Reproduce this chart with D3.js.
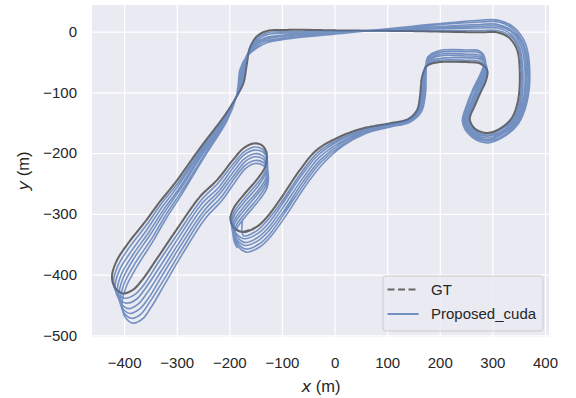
<!DOCTYPE html>
<html>
<head>
<meta charset="utf-8">
<script src="https://cdn.jsdelivr.net/npm/d3@7/dist/d3.min.js"></script>
<style>
  body { margin: 0; background: #fff; }
  text { font-family: "Liberation Sans", Arial, sans-serif; fill: #262626; }
</style>
</head>
<body>
<script>
const gtTrack = [
  [-174,-330],[-149,-322],[-130,-307],[-104,-277],[-66,-228],[-34,-195],[10,-173],[55,-159],[105,-151],[140,-144],
  [157,-129],[163,-101],[166,-76],[176,-56],[200,-50],[250,-50],[276,-52],[290,-63],[288,-80],[278,-99],
  [267,-121],[257,-144],[267,-160],[290,-167],[314,-160],[337,-142],[349,-112],[352,-66],[347,-30],[332,-10],
  [309,-1],[276,-1],[149,1],[23,2],[-91,3],[-129,1],[-148,-8],[-161,-27],[-167,-55],[-173,-84],
  [-187,-108],[-208,-137],[-256,-192],[-303,-249],[-332,-280],[-360,-313],[-392,-348],[-415,-379],[-423,-404],[-417,-422],
  [-402,-431],[-383,-425],[-364,-407],[-337,-373],[-301,-327],[-256,-272],[-223,-244],[-193,-211],[-173,-192],[-154,-184],
  [-138,-187],[-129,-200],[-132,-223],[-148,-244],[-173,-269],[-192,-291],[-198,-308],[-191,-323]
];
const gtLaps = 6;

// Proposed_cuda estimate, lap by lap
const blueStart = [-175,-309];
const lap1 = [
  [-173,-336],[-148,-328],[-129,-312],[-102,-282],[-64,-233],[-32,-199],[11,-176],[56,-161],[105,-152],[141,-145],
  [158,-130],[165,-101],[167,-75],[176,-54],[200,-47],[250,-47],[276,-49],[289,-60],[286,-78],[276,-98],
  [264,-121],[255,-145],[266,-162],[290,-170],[315,-162],[339,-144],[352,-113],[355,-66],[350,-28],[334,-7],
  [310,2],[276,2],[149,2],[23,1],[-91,0],[-129,-2],[-148,-11],[-162,-29],[-169,-56],[-175,-84],
  [-187,-108],[-207,-139],[-255,-195],[-301,-253],[-330,-284],[-357,-318],[-389,-354],[-412,-386],[-420,-412],[-414,-430],
  [-399,-439],[-380,-433],[-361,-415],[-335,-380],[-299,-334],[-254,-278],[-222,-250],[-192,-217],[-172,-198],[-153,-190],
  [-138,-193],[-129,-206],[-131,-229],[-147,-250],[-172,-275],[-191,-297],[-197,-314],[-190,-329]
];
const lap2 = [
  [-172,-341],[-147,-333],[-127,-317],[-101,-286],[-63,-237],[-31,-203],[12,-178],[56,-162],[105,-153],[141,-146],
  [160,-130],[166,-101],[169,-74],[176,-51],[200,-44],[250,-43],[276,-45],[289,-57],[285,-76],[273,-97],
  [262,-120],[252,-145],[264,-164],[290,-172],[316,-165],[341,-145],[355,-113],[358,-65],[352,-27],[335,-4],
  [310,6],[276,6],[149,4],[23,1],[-91,-2],[-129,-5],[-147,-14],[-163,-32],[-171,-58],[-176,-85],
  [-187,-108],[-207,-140],[-253,-197],[-299,-256],[-328,-289],[-355,-324],[-386,-361],[-409,-393],[-417,-419],[-411,-438],
  [-396,-447],[-377,-441],[-359,-422],[-332,-387],[-297,-340],[-253,-284],[-220,-256],[-191,-222],[-172,-203],[-153,-195],
  [-137,-198],[-128,-211],[-131,-234],[-146,-255],[-171,-280],[-190,-302],[-196,-319],[-189,-334]
];
const lap3 = [
  [-171,-347],[-146,-339],[-126,-323],[-99,-291],[-61,-242],[-29,-207],[13,-181],[57,-164],[106,-154],[142,-147],
  [161,-131],[168,-101],[170,-73],[177,-49],[200,-40],[250,-40],[276,-42],[288,-54],[283,-74],[271,-96],
  [259,-120],[250,-146],[263,-166],[290,-175],[317,-167],[343,-147],[358,-114],[362,-65],[355,-25],[337,-1],
  [311,9],[276,9],[149,5],[23,0],[-91,-5],[-129,-9],[-147,-17],[-164,-34],[-174,-59],[-178,-85],
  [-187,-108],[-206,-142],[-252,-200],[-297,-260],[-325,-293],[-352,-329],[-383,-367],[-406,-401],[-413,-427],[-407,-446],
  [-392,-456],[-374,-449],[-356,-430],[-330,-395],[-295,-347],[-251,-290],[-219,-262],[-190,-228],[-171,-209],[-152,-201],
  [-137,-204],[-128,-217],[-130,-240],[-145,-261],[-170,-286],[-189,-308],[-195,-325],[-188,-340]
];
const lap4 = [
  [-170,-352],[-145,-344],[-125,-328],[-97,-296],[-59,-246],[-27,-211],[14,-183],[57,-165],[106,-155],[142,-147],
  [162,-131],[170,-101],[171,-72],[177,-47],[200,-37],[250,-37],[276,-39],[287,-51],[281,-72],[269,-95],
  [257,-120],[248,-147],[262,-168],[290,-178],[318,-169],[345,-149],[360,-114],[365,-65],[358,-23],[338,1],
  [311,12],[276,12],[149,6],[23,-1],[-91,-7],[-129,-12],[-147,-20],[-165,-36],[-176,-60],[-180,-85],
  [-187,-108],[-205,-143],[-251,-202],[-296,-263],[-323,-297],[-350,-334],[-381,-373],[-403,-408],[-410,-435],[-404,-454],
  [-389,-464],[-371,-457],[-353,-438],[-328,-402],[-293,-353],[-249,-296],[-218,-267],[-189,-234],[-170,-214],[-152,-206],
  [-137,-209],[-128,-222],[-129,-245],[-145,-266],[-169,-291],[-188,-313],[-194,-330],[-187,-345]
];
const lap5 = [
  [-169,-358],[-144,-350],[-123,-333],[-96,-300],[-58,-251],[-26,-215],[15,-186],[58,-167],[106,-156],[143,-148],
  [164,-132],[171,-101],[173,-71],[177,-44],[200,-34],[250,-33],[276,-35],[287,-48],[280,-70],[266,-94],
  [254,-119],[245,-147],[260,-170],[290,-180],[319,-172],[347,-150],[363,-115],[368,-64],[360,-22],[340,4],
  [312,16],[276,16],[149,8],[23,-1],[-91,-10],[-129,-15],[-146,-23],[-166,-39],[-178,-62],[-181,-86],
  [-187,-108],[-205,-145],[-249,-205],[-294,-267],[-321,-302],[-347,-340],[-378,-380],[-400,-415],[-407,-442],[-401,-462],
  [-386,-472],[-368,-465],[-351,-445],[-325,-409],[-291,-360],[-248,-302],[-216,-273],[-188,-239],[-170,-220],[-151,-212],
  [-136,-215],[-127,-228],[-129,-251],[-144,-272],[-168,-297],[-187,-319],[-193,-336],[-186,-351]
];
const lap6 = [
  [-168,-363],[-143,-355],[-122,-338],[-94,-305],[-56,-255],[-24,-219],[16,-188],[58,-168],[106,-157],[143,-149],
  [165,-132],[173,-101],[174,-70],[177,-42],[200,-31],[250,-30],[276,-32],[286,-45],[278,-68],[264,-93],
  [252,-119],[243,-148],[259,-172],[290,-183],[320,-174],[349,-152],[366,-115],[371,-64],[363,-20],[341,7],
  [312,19],[276,19],[149,9],[23,-2],[-91,-12],[-129,-18],[-146,-26],[-167,-41],[-180,-63],[-183,-86],
  [-187,-108],[-204,-146],[-248,-207],[-292,-270],[-319,-306],[-345,-345],[-375,-386],[-397,-422],[-404,-450],[-398,-470],
  [-383,-480],[-365,-473],[-348,-453],[-323,-416],[-289,-366],[-246,-308],[-215,-279],[-187,-245],[-169,-225],[-151,-217],
  [-136,-220],[-127,-233],[-128,-256],[-143,-277],[-167,-302],[-186,-324],[-192,-341],[-185,-356]
];

const xTickValues = [-400,-300,-200,-100,0,100,200,300,400];
const yTickValues = [0,-100,-200,-300,-400,-500];
const seriesNames = ["GT","Proposed_cuda"];

const W = 576, H = 398;
const plot = {left: 92, right: 549, top: 5, bottom: 337};

const svg = d3.select("body").append("svg")
    .attr("width", W)
    .attr("height", H);

const x = d3.scaleLinear().domain([-461, 407.6]).range([plot.left, plot.right]);
const y = d3.scaleLinear().domain([-502.8, 44]).range([plot.bottom, plot.top]);

// seaborn darkgrid background
svg.append("rect")
    .attr("x", plot.left).attr("y", plot.top)
    .attr("width", plot.right - plot.left)
    .attr("height", plot.bottom - plot.top)
    .attr("fill", "#eaeaf2");

// grid
const gx = svg.append("g")
    .attr("transform", "translate(0," + plot.bottom + ")")
    .call(d3.axisBottom(x).tickValues(xTickValues)
        .tickSize(-(plot.bottom - plot.top)).tickPadding(20));
const gy = svg.append("g")
    .attr("transform", "translate(" + plot.left + ",0)")
    .call(d3.axisLeft(y).tickValues(yTickValues)
        .tickSize(-(plot.right - plot.left)).tickPadding(15));

[gx, gy].forEach(function (g) {
    g.select(".domain").remove();
    g.selectAll(".tick line").attr("stroke", "#ffffff").attr("stroke-width", 1.25);
    g.selectAll(".tick text")
        .attr("fill", "#262626")
        .style("font-size", "15px")
        .style("font-family", "'Liberation Sans', Arial, sans-serif");
});
gx.selectAll(".tick text").attr("dy", "0.71em");

const line = d3.line()
    .x(function (d) { return x(d[0]); })
    .y(function (d) { return y(d[1]); })
    .curve(d3.curveCatmullRom.alpha(0.5));

// GT driven for several laps over the same track
let gtPoints = [];
for (let i = 0; i < gtLaps; i++) gtPoints = gtPoints.concat(gtTrack);
gtPoints.push(gtTrack[0]);

svg.append("path")
    .attr("d", line(gtPoints))
    .attr("fill", "none")
    .attr("stroke", "#666666")
    .attr("stroke-width", 2)
    .attr("stroke-dasharray", "7,3")
    .attr("stroke-linejoin", "round");

const bluePoints = [blueStart].concat(lap1, lap2, lap3, lap4, lap5, lap6);
svg.append("path")
    .attr("d", line(bluePoints))
    .attr("fill", "none")
    .attr("stroke", "#4c72b0")
    .attr("stroke-opacity", 0.75)
    .attr("stroke-width", 1.6)
    .attr("stroke-linejoin", "round");

// axis labels
const xl = svg.append("text")
    .attr("x", 321).attr("y", 392)
    .attr("text-anchor", "middle")
    .style("font-size", "16.5px");
xl.append("tspan").text("x").style("font-style", "italic").style("font-family", "'DejaVu Sans', sans-serif");
xl.append("tspan").text(" (m)");

const yl = svg.append("text")
    .attr("transform", "translate(29,171) rotate(-90)")
    .attr("text-anchor", "middle")
    .style("font-size", "16.5px");
yl.append("tspan").text("y").style("font-style", "italic").style("font-family", "'DejaVu Sans', sans-serif");
yl.append("tspan").text(" (m)");

// legend
const lg = svg.append("g").attr("transform", "translate(383,276)");
lg.append("rect")
    .attr("width", 160).attr("height", 55)
    .attr("rx", 3)
    .attr("fill", "#eaeaf2").attr("fill-opacity", 0.8)
    .attr("stroke", "#cccccc").attr("stroke-width", 1);

const items = lg.selectAll("g.item")
    .data(seriesNames)
    .enter().append("g")
    .attr("class", "item")
    .attr("transform", function (d, i) { return "translate(0," + (13.5 + i * 24.5) + ")"; });

items.append("line")
    .attr("x1", 4.5).attr("x2", 35.5)
    .attr("stroke", function (d, i) { return i === 0 ? "#666666" : "#4c72b0"; })
    .attr("stroke-opacity", function (d, i) { return i === 0 ? 1 : 0.75; })
    .attr("stroke-width", function (d, i) { return i === 0 ? 2 : 2; })
    .attr("stroke-dasharray", function (d, i) { return i === 0 ? "7,3.5" : null; });

items.append("text")
    .attr("x", 48).attr("dy", "0.35em")
    .style("font-size", "15px")
    .text(function (d) { return d; });
</script>
</body>
</html>
